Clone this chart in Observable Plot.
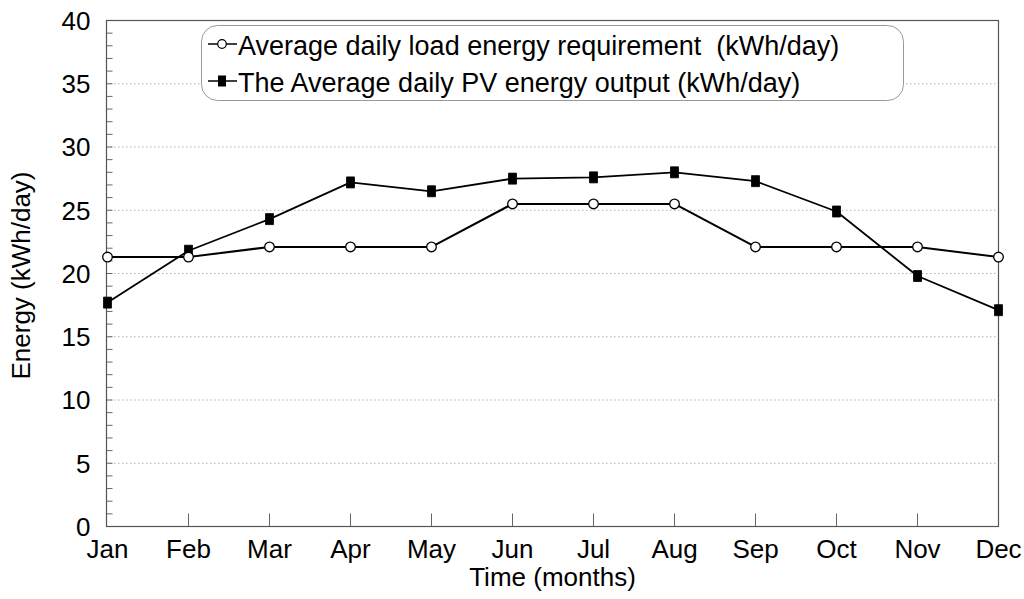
<!DOCTYPE html>
<html><head><meta charset="utf-8">
<script src="https://cdn.jsdelivr.net/npm/d3@7"></script>
<script src="https://cdn.jsdelivr.net/npm/@observablehq/plot@0.6"></script>
<style>
body{margin:0;background:#fff;}
#wrap{position:relative;width:1024px;height:599px;font-family:"Liberation Sans",Arial,sans-serif;}
#legend{position:absolute;left:0;top:0;pointer-events:none;}
</style></head><body><div id="wrap"></div>
<script>
const months = ["Jan","Feb","Mar","Apr","May","Jun","Jul","Aug","Sep","Oct","Nov","Dec"];
const loadEnergy = [21.3,21.3,22.1,22.1,22.1,25.5,25.5,25.5,22.1,22.1,22.1,21.3];
const pvEnergy = [17.7,21.8,24.3,27.2,26.5,27.5,27.6,28.0,27.3,24.9,19.8,17.1];
const yTicks = [0,5,10,15,20,25,30,35,40];
const yGrid = [5,10,15,20,25,30,35];
const yMinorTicks = d3.range(0,41,1);
const seriesNames = ["Average daily load energy requirement  (kWh/day)","The Average daily PV energy output (kWh/day)"];
const xTitle = "Time (months)";
const yTitle = "Energy (kWh/day)";

const data = months.map((m,i)=>({month:m, load:loadEnergy[i], pv:pvEnergy[i]}));
const font = "Liberation Sans, Arial, sans-serif";
const hTick = {draw(ctx){ctx.moveTo(0,0);ctx.lineTo(6,0);}};
const vTick = {draw(ctx){ctx.moveTo(0,0);ctx.lineTo(0,-13);}};
const rectSym = {draw(ctx){ctx.rect(-4,-5.5,8,11);}};

const chart = Plot.plot({
  width:1024, height:599,
  marginLeft:106, marginRight:26, marginTop:20, marginBottom:73,
  style:{fontFamily:font, fontSize:"26px", color:"#000", background:"#fff", overflow:"visible"},
  x:{type:"point", domain:months, padding:0, axis:null},
  y:{domain:[0,40], axis:null},
  marks:[
    Plot.ruleY(yGrid, {stroke:"#b0b0b0", strokeDasharray:"1.5,2.5", strokeWidth:1}),
    Plot.dot(yMinorTicks, {y:d=>d, frameAnchor:"left", symbol:hTick, stroke:"#666", fill:"none", strokeWidth:1}),
    Plot.dot(months.slice(1,-1), {x:d=>d, frameAnchor:"bottom", symbol:vTick, stroke:"#666", fill:"none", strokeWidth:1}),
    Plot.frame({stroke:"#555", strokeWidth:1.2}),
    Plot.text(yTicks, {y:d=>d, text:d=>String(d), frameAnchor:"left", dx:-16, dy:1, textAnchor:"end", lineAnchor:"middle", fontSize:26, fill:"#000"}),
    Plot.text(months, {x:d=>d, text:d=>d, frameAnchor:"bottom", dy:23, lineAnchor:"middle", textAnchor:"middle", fontSize:26, fill:"#000"}),
    Plot.text([xTitle], {text:d=>d, frameAnchor:"bottom", dy:51, lineAnchor:"middle", textAnchor:"middle", fontSize:26, fill:"#000"}),
    Plot.text([yTitle], {text:d=>d, frameAnchor:"left", dx:-85, dy:2, rotate:-90, lineAnchor:"middle", textAnchor:"middle", fontSize:26, fill:"#000"}),
    Plot.line(data, {x:"month", y:"pv", stroke:"#000", strokeWidth:1.8}),
    Plot.line(data, {x:"month", y:"load", stroke:"#000", strokeWidth:2}),
    Plot.dot(data, {x:"month", y:"pv", symbol:rectSym, fill:"#000", stroke:"#000", strokeWidth:0.8}),
    Plot.dot(data, {x:"month", y:"load", r:4.8, fill:"#fff", stroke:"#000", strokeWidth:1.3})
  ]
});
const wrap = document.getElementById("wrap");
wrap.appendChild(chart);

// legend overlay
const lg = d3.select(wrap).append("svg").attr("id","legend").attr("width",1024).attr("height",599);
lg.append("rect").attr("x",201.5).attr("y",25.5).attr("width",702).attr("height",75).attr("rx",16)
  .attr("fill","#fff").attr("stroke","#999").attr("stroke-width",1);
const rows = [{y:44, base:55, sym:"circle"},{y:81, base:92, sym:"rect"}];
rows.forEach((r,i)=>{
  lg.append("line").attr("x1",208).attr("x2",237).attr("y1",r.y).attr("y2",r.y).attr("stroke","#000").attr("stroke-width",1.5);
  if (r.sym==="circle") lg.append("circle").attr("cx",222).attr("cy",r.y).attr("r",4.3).attr("fill","#fff").attr("stroke","#000").attr("stroke-width",1.2);
  else lg.append("rect").attr("x",218).attr("y",r.y-5.5).attr("width",8).attr("height",11).attr("fill","#000");
  lg.append("text").attr("x",238).attr("y",r.base).attr("font-family",font).attr("font-size",27)
    .attr("xml:space","preserve").style("white-space","pre").attr("fill","#000").text(seriesNames[i]);
});
</script></body></html>
